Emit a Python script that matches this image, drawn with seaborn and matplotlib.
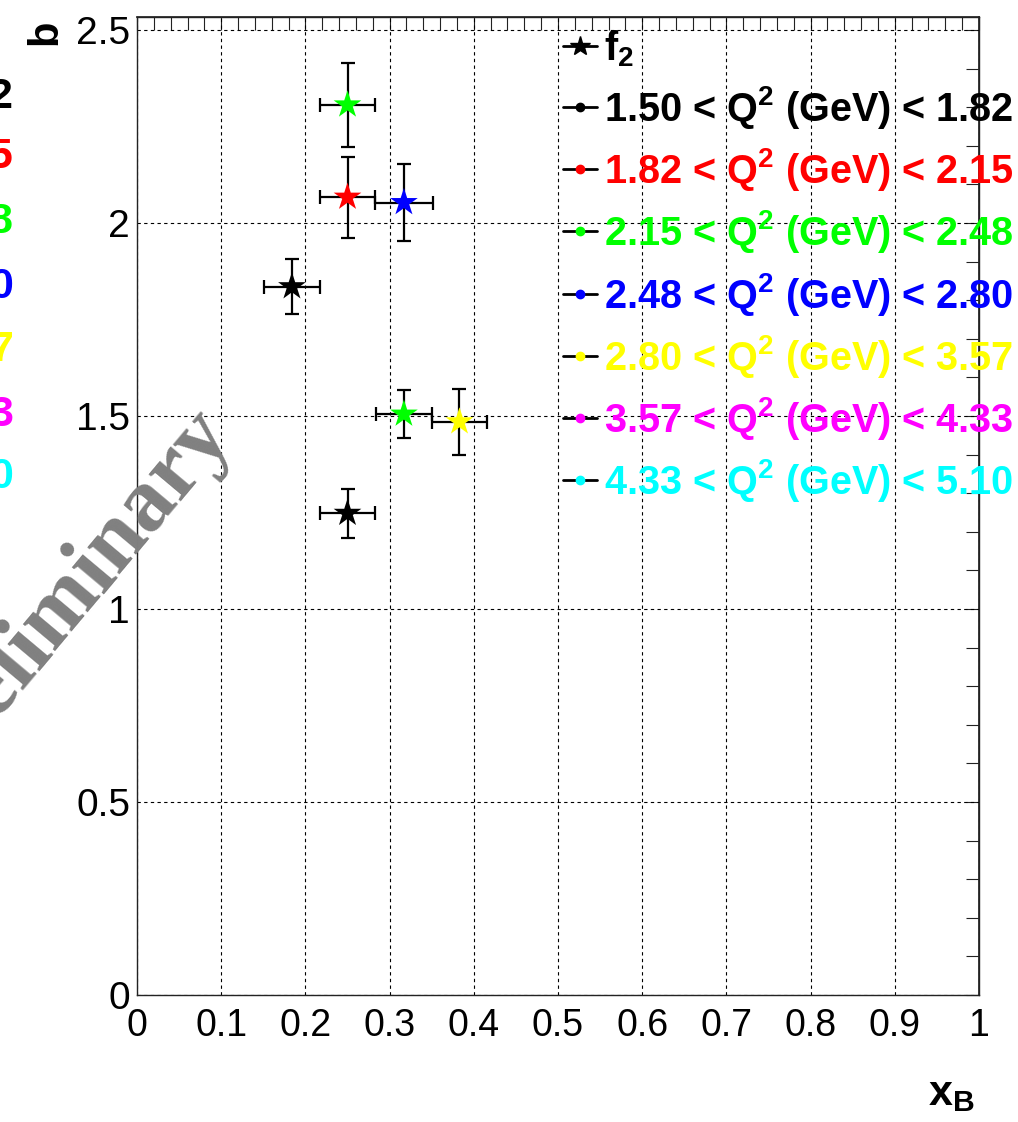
import numpy as np
import pandas as pd
import matplotlib
matplotlib.use("Agg")
import matplotlib.pyplot as plt
from matplotlib.lines import Line2D
from matplotlib.ticker import MultipleLocator, FuncFormatter
import seaborn as sns

# ---- data ----
x_b = [0.184, 0.250, 0.250, 0.250, 0.317, 0.317, 0.383]
b_val = [1.835, 1.248, 2.067, 2.306, 2.053, 1.505, 1.485]
x_err = [0.033, 0.033, 0.033, 0.033, 0.034, 0.033, 0.033]
b_err = [0.071, 0.063, 0.105, 0.108, 0.100, 0.063, 0.086]
q2_bin = [0, 0, 1, 2, 3, 2, 4]

bin_labels = ["1.50 < Q$^{2}$ (GeV) < 1.82",
              "1.82 < Q$^{2}$ (GeV) < 2.15",
              "2.15 < Q$^{2}$ (GeV) < 2.48",
              "2.48 < Q$^{2}$ (GeV) < 2.80",
              "2.80 < Q$^{2}$ (GeV) < 3.57",
              "3.57 < Q$^{2}$ (GeV) < 4.33",
              "4.33 < Q$^{2}$ (GeV) < 5.10"]
bin_colors = ["#000000", "#ff0000", "#00ff00", "#0000ff", "#ffff00", "#ff00ff", "#00ffff"]
left_digits = ["2", "5", "8", "0", "7", "3", "0"]

x_ticks = [0, 0.1, 0.2, 0.3, 0.4, 0.5, 0.6, 0.7, 0.8, 0.9, 1.0]
y_ticks = [0, 0.5, 1.0, 1.5, 2.0, 2.5]

df = pd.DataFrame({"xB": x_b, "b": b_val, "xerr": x_err, "berr": b_err,
                   "bin": [bin_labels[i] for i in q2_bin]})

# ---- style ----
sns.set_theme(style="white")
SANS = ["Liberation Sans", "DejaVu Sans"]
plt.rcParams["font.family"] = SANS
plt.rcParams["text.color"] = "black"
plt.rcParams["xtick.color"] = "black"
plt.rcParams["ytick.color"] = "black"
plt.rcParams["mathtext.fontset"] = "custom"
plt.rcParams["mathtext.rm"] = "Liberation Sans:bold"
plt.rcParams["mathtext.bf"] = "Liberation Sans:bold"
plt.rcParams["mathtext.it"] = "Liberation Sans:bold"

W, H = 1018, 1122
fig = plt.figure(figsize=(W / 100, H / 100), dpi=100)
ax = fig.add_axes([137 / W, 1 - 995 / H, (979 - 137) / W, (995 - 17) / H])

ax.errorbar(df["xB"], df["b"], xerr=df["xerr"], yerr=df["berr"], fmt="none",
            ecolor="black", elinewidth=1.6, capsize=5, capthick=1.6, zorder=3)
sns.scatterplot(data=df, x="xB", y="b", hue="bin",
                palette={lab: c for lab, c in zip(bin_labels, bin_colors)},
                marker="*", s=440, linewidth=0, legend=False, ax=ax, zorder=4)

ax.set_xlim(0, 1)
ax.set_ylim(0, 2.5 + 13 / 386)
ax.set_xticks(x_ticks)
ax.set_yticks(y_ticks)
ax.xaxis.set_minor_locator(MultipleLocator(0.02))
ax.yaxis.set_minor_locator(MultipleLocator(0.1))
fmt = FuncFormatter(lambda v, p: "%g" % v)
ax.xaxis.set_major_formatter(fmt)
ax.yaxis.set_major_formatter(fmt)
ax.set_xlabel("")
ax.set_ylabel("")

ax.grid(True, which="major", color="black", linestyle=(0, (3, 3)), linewidth=0.8)
ax.tick_params(axis="x", which="major", direction="in", length=22, width=0.8,
               color="#222222", labelcolor="black", labelsize=27, pad=9)
ax.tick_params(axis="x", which="minor", direction="in", length=10, width=0.8, color="#222222")
ax.tick_params(axis="y", which="major", direction="in", length=18, width=0.8,
               color="#222222", labelcolor="black", labelsize=28, pad=5)
ax.tick_params(axis="y", which="minor", direction="in", length=10, width=0.8, color="#222222")
for sp in ax.spines.values():
    sp.set_color("#222222")
    sp.set_linewidth(1.0)

# top / right ticks (short)
top = ax.secondary_xaxis("top")
top.set_xticks(x_ticks)
top.xaxis.set_minor_locator(MultipleLocator(0.02))
top.tick_params(which="both", direction="in", length=9.5, width=0.8, color="#222222",
                labeltop=False)
right = ax.secondary_yaxis("right")
right.set_yticks(y_ticks)
right.yaxis.set_minor_locator(MultipleLocator(0.1))
right.tick_params(which="both", direction="in", length=9.5, width=0.8, color="#222222",
                  labelright=False)

# axis titles
fig.text(45 / W, 1 - 32 / H, "b", rotation=90, ha="center", va="center",
         fontsize=30, fontweight="bold", color="black")
fig.text(975 / W, 1 - 1094 / H, "x$_{\\mathbf{B}}$", ha="right", va="center",
         fontsize=31, fontweight="bold", color="black")

# legend
handles = [Line2D([0], [0], color="black", lw=2, marker="*", markersize=15,
                  markerfacecolor="black", markeredgecolor="black")]
labels = ["f$_{2}$"]
for lab, c in zip(bin_labels, bin_colors):
    handles.append(Line2D([0], [0], color="black", lw=2, marker="o", markersize=6,
                          markerfacecolor=c, markeredgecolor=c))
    labels.append(lab)
leg = ax.legend(handles, labels, loc="upper left",
                bbox_to_anchor=(563 / W, 1 - 28 / H), bbox_transform=fig.transFigure,
                frameon=False, borderpad=0, borderaxespad=0, handlelength=0.85,
                handletextpad=0.18, labelspacing=0.385,
                prop={"family": SANS, "weight": "bold", "size": 28.5})
for t, c in zip(leg.get_texts(), ["black"] + bin_colors):
    t.set_color(c)

# cropped neighbouring legend (left edge)
left_y = [97, 157, 222, 287, 350, 415, 477]
for d, yy, c in zip(left_digits, left_y, bin_colors):
    fig.text(13 / W, 1 - yy / H, d, ha="right", va="center", fontsize=31,
             fontweight="bold", color=c)

# watermark
fig.text(234 / W, 1 - 436 / H, "Preliminary", rotation=50, rotation_mode="anchor",
         ha="right", va="baseline", fontsize=65, fontweight="bold", color="#808080",
         family=["Liberation Serif", "DejaVu Serif"], zorder=10)

fig.savefig("out.png", dpi=100)
